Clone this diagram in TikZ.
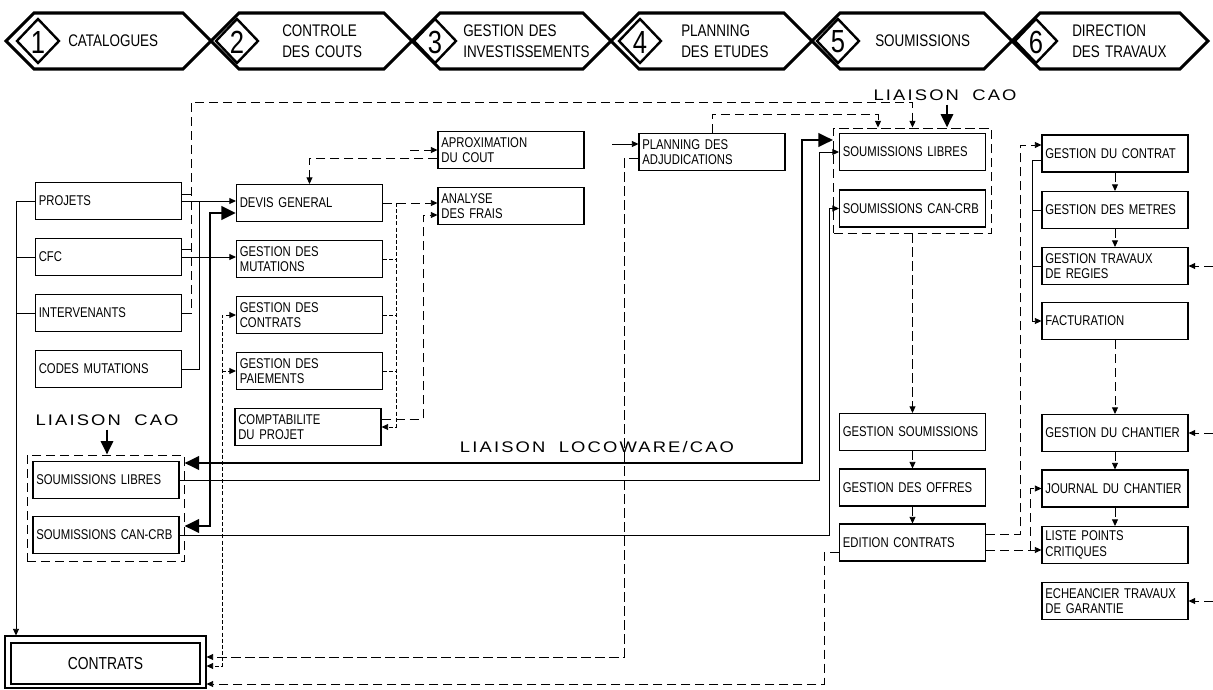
\documentclass[tikz,border=0pt]{standalone}
\usepackage{fontspec}
\setmainfont{Liberation Sans}
\newfontfamily\bxfont{Liberation Sans}[FakeStretch=0.8,WordSpace=1.8]
\newfontfamily\hdfont{Liberation Sans}[FakeStretch=0.8,WordSpace=1.4]
\newfontfamily\lsfont{Liberation Sans}[FakeStretch=1.2,LetterSpace=14]
\usetikzlibrary{arrows.meta,calc}
\begin{document}
\begin{tikzpicture}[x=0.75pt,y=-0.75pt,
  box/.style={draw, line width=0.8pt, minimum height=27.75pt, text width=104.5pt,
    inner xsep=2.5pt, inner ysep=0pt, align=left, font=\bxfont\fontsize{10.6}{11.5}\selectfont},
  conn/.style={line width=0.7pt},
  ar/.style={conn,-{Triangle[length=5pt,width=4.5pt]}},
  bar/.style={conn,{Triangle[length=5pt,width=4.5pt]}-{Triangle[length=5pt,width=4.5pt]}},
  dsh/.style={dash pattern=on 7pt off 3.5pt},
  fdsh/.style={dash pattern=on 3pt off 1.6pt},
  thk/.style={line width=2.2pt,{Triangle[length=11pt,width=10pt]}-{Triangle[length=11pt,width=10pt]}},
  grp/.style={draw, dash pattern=on 7pt off 3.5pt, line width=0.7pt, inner sep=0pt},
  hex/.style={line width=2.3pt, line join=miter},
  dmd/.style={line width=1.8pt, line join=miter},
  hdtxt/.style={font=\hdfont\fontsize{12.6}{15.75}\selectfont, align=left, anchor=west, inner sep=0pt},
  digit/.style={font=\hdfont\fontsize{24}{24}\selectfont, inner sep=0pt},
  liais/.style={font=\lsfont\fontsize{11.5}{13}\selectfont, inner sep=0pt}
]
\useasboundingbox (0,0) rectangle (1213,689);
\fill[white] (0,0) rectangle (1213,689);

% ---------- header ----------
\foreach \L/\R/\c/\n/\tx/\t [count=\i] in {
  6/211/38/1/68/{CATALOGUES},
  211/412/237/2/282/{CONTROLE\\DES COUTS},
  412/611/435/3/463/{GESTION DES\\INVESTISSEMENTS},
  611/812/640/4/681/{PLANNING\\DES ETUDES},
  812/1012/838/5/875/{SOUMISSIONS},
  1012/1208/1036/6/1072/{DIRECTION\\DES TRAVAUX}}{
  \draw[hex] (\L,41) -- ({\L+28},13) -- ({\R-28},13) -- (\R,41) -- ({\R-28},69) -- ({\L+28},69) -- cycle;
  \draw[dmd] ({\c-21},41) -- (\c,19) -- ({\c+21},41) -- (\c,63) -- cycle;
  \node[digit] (dg\i) at (\c,42) {\n};
  \node[hdtxt] (hd\i) at (\tx,41) {\t};
}

% ---------- left column ----------
\node[box] (projets) at (108.5,201) {PROJETS};
\node[box] (cfc) at (108.5,257) {CFC};
\node[box] (interv) at (108.5,313) {INTERVENANTS};
\node[box] (codes) at (108.5,369) {\mbox{CODES MUTATIONS}};

% ---------- middle column ----------
\node[box] (devis) at (309.5,203) {\mbox{DEVIS GENERAL}};
\node[box] (mut) at (309.5,259) {GESTION DES\\MUTATIONS};
\node[box] (gcontr) at (309.5,315) {GESTION DES\\CONTRATS};
\node[box] (paie) at (309.5,371) {GESTION DES\\PAIEMENTS};
\node[box] (compta) at (308,427) {COMPTABILITE\\DU PROJET};

\node[box] (aprox) at (511,150) {APROXIMATION\\DU COUT};
\node[box] (analyse) at (511,206) {ANALYSE\\DES FRAIS};
\node[box] (padj) at (712,152) {PLANNING DES\\ADJUDICATIONS};

% ---------- right group ----------
\node[grp, minimum width=118.5pt, minimum height=78.75pt] (grpR) at (912.5,180.5) {};
\node[box] (slR) at (912.5,152) {\mbox{SOUMISSIONS LIBRES}};
\node[box] (scR) at (912.5,208.5) {\mbox{SOUMISSIONS CAN-CRB}};
\node[box] (gs) at (912.5,432) {\mbox{GESTION SOUMISSIONS}};
\node[box] (go) at (912.5,487.5) {\mbox{GESTION DES OFFRES}};
\node[box] (ec) at (912.5,542.5) {\mbox{EDITION CONTRATS}};

% ---------- right column ----------
\node[box] (gdc) at (1115,153.5) {\mbox{GESTION DU CONTRAT}};
\node[box] (gdm) at (1115,210) {\mbox{GESTION DES METRES}};
\node[box] (gtr) at (1115,266) {\mbox{GESTION TRAVAUX}\\DE REGIES};
\node[box] (fact) at (1115,321) {FACTURATION};
\node[box] (gch) at (1115,433) {\mbox{GESTION DU CHANTIER}};
\node[box] (jou) at (1115,488.5) {\mbox{JOURNAL DU CHANTIER}};
\node[box] (lpc) at (1115,545) {LISTE POINTS\\CRITIQUES};
\node[box] (ech) at (1115,601) {\mbox{ECHEANCIER TRAVAUX}\\DE GARANTIE};

% ---------- left group ----------
\node[grp, minimum width=117.75pt, minimum height=79.5pt] (grpL) at (105.5,508) {};
\node[box] (slL) at (106,480) {\mbox{SOUMISSIONS LIBRES}};
\node[box] (scL) at (106,535) {\mbox{SOUMISSIONS CAN-CRB}};

% ---------- contrats ----------
\node[draw, line width=0.8pt, minimum width=150.75pt, minimum height=39pt, inner sep=0pt] (contro) at (105.5,662) {};
\node[draw, line width=0.8pt, minimum width=141.75pt, minimum height=30.75pt, inner sep=0pt,
  font=\hdfont\fontsize{13}{13}\selectfont] (contri) at (105.5,663.5) {CONTRATS};

% ---------- labels ----------
\node[liais] (lcaoL) at (107,420) {LIAISON\hspace{10pt}CAO};
\node[liais] (lcaoR) at (945,95) {LIAISON\hspace{10pt}CAO};
\node[liais] (lloco) at (597,447) {LIAISON\hspace{10pt}LOCOWARE/CAO};

\draw[line width=2.2pt,-{Triangle[length=10pt,width=9pt]}] ([yshift=-3pt]lcaoL.south) -- (lcaoL.south |- grpL.north);
\draw[line width=2.2pt,-{Triangle[length=10pt,width=9pt]}] ([yshift=-3pt]lcaoR.south -| 947,0) -- (grpR.north -| 947,0);

% ---------- free ends ----------
\coordinate (aproxIn) at (410,150);
\coordinate (padjIn) at (612,144);
\coordinate (rIn1) at (1213,266);
\coordinate (rIn2) at (1213,433);
\coordinate (rIn3) at (1213,601);

% ---------- connectors: left ----------
\draw[ar] (projets.west) -- (projets.west -| 16,0) -- (contro.north -| 16,0);
\draw[conn] (cfc.west) -- (cfc.west -| 16,0);
\draw[conn] (interv.west) -- (interv.west -| 16,0);

\draw[ar] (projets.east) -- (projets.east -| devis.west);
\draw[conn] (codes.east) -| (projets.east -| 199,0);
\draw[ar] (cfc.east) -- (cfc.east -| mut.west);

\draw[ar,dsh] (interv.east) -| (191,102) -| (grpR.north);
\draw[conn,dsh] ([yshift=5.25pt]projets.east) -- ([yshift=5.25pt]projets.east -| 191,0);
\draw[conn,dsh] ([yshift=6pt]cfc.east) -- ([yshift=6pt]cfc.east -| 191,0);

% ---------- connectors: middle ----------
\draw[ar,dsh] (padj.north) |- (878,114) -- (grpR.north -| 878,0);
\draw[ar] (padjIn) -- (padjIn -| padj.west);
\draw[ar,dsh] ([yshift=-5pt]padj.west) -| (624,657) -- (contro.east |- 0,657);

\draw[ar,dsh] (aproxIn) -- (aproxIn -| aprox.west);
\draw[ar,dsh] ([yshift=-6pt]aprox.west) -| (devis.north);
\draw[ar,dsh] (devis.east) -- (devis.east -| analyse.west);
\draw[ar,fdsh] (devis.east -| 396,0) |- (compta.east);
\foreach \b in {mut,gcontr,paie} \draw[conn,fdsh] (\b.east) -- (\b.east -| 396,0);
\draw[ar,dsh] ([yshift=6pt]compta.east) -| (423,215) -- (analyse.west |- 0,215);

\draw[bar,fdsh] (gcontr.west) -| (222,666) -- (contro.east |- 0,666);
\draw[ar,fdsh] (paie.west -| 222,0) -- (paie.west);

% ---------- thick links ----------
\draw[thk] ([yshift=-7.5pt]devis.west) -| (210,526) -- (grpL.east |- 0,526);
\draw[thk] (grpL.east |- 0,463) -| (802,140) -- (grpR.west |- 0,140);

\draw[ar] (slL.east) -| ([xshift=-15pt]slR.west) -- (slR.west);
\draw[ar] (scL.east) -| ([xshift=-7.5pt]scR.west) -- (scR.west);

% ---------- soumissions chain ----------
\draw[ar,dsh] (grpR.south) -- (gs.north);
\draw[ar,dsh] (gs.south) -- (go.north);
\draw[ar,dsh] (go.south) -- (ec.north);
\draw[ar,dsh] ([yshift=6.4pt]ec.east) -| ([xshift=-15.75pt,yshift=6.4pt]gdc.west) -- ([yshift=6.4pt]gdc.west);
\draw[ar,dsh] ([yshift=-5.6pt]ec.east) -- ([yshift=-5.6pt]ec.east -| lpc.west);
\draw[ar,dsh] ([yshift=-5.6pt]ec.east -| 1030,0) |- (jou.west);
\draw[ar,dsh] ([yshift=-7.5pt]ec.west) -| (824,684) -- (contro.east |- 0,684);

% ---------- right column ----------
\draw[ar,dsh] (gdc.south) -- (gdm.north);
\draw[ar,dsh] (gdm.south) -- (gtr.north);
\draw[ar,dsh] (fact.south) -- (gch.north);
\draw[ar,dsh] (gch.south) -- (jou.north);
\draw[ar,dsh] (jou.south) -- (lpc.north);
\draw[ar] ([yshift=-4.9pt]gdc.west) -| ([xshift=-6.75pt]fact.west) -- (fact.west);
\draw[conn] (gdm.west) -- ++(-9,0);
\draw[conn] (gtr.west) -- ++(-9,0);

\draw[ar,dsh] (rIn1) -- (gtr.east);
\draw[ar,dsh] (rIn2) -- (gch.east);
\draw[ar,dsh] (rIn3) -- (ech.east);
\end{tikzpicture}
\end{document}
